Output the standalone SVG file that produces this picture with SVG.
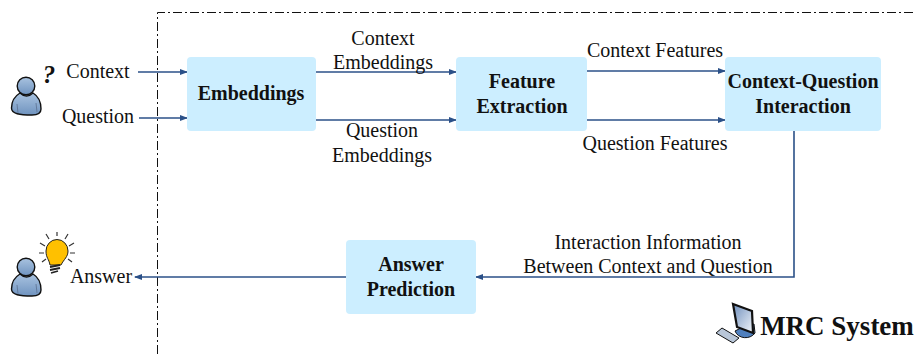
<svg xmlns="http://www.w3.org/2000/svg" width="915" height="356" viewBox="0 0 915 356">
<style>
text{font-family:"Liberation Serif","Times New Roman",serif;font-size:20px;fill:#111;text-anchor:middle}
.b{font-weight:bold}
.box{fill:#cceeff}
.c{fill:none;stroke:#2b5088;stroke-width:1.6;marker-end:url(#a)}
.border{fill:none;stroke:#111;stroke-width:1;stroke-dasharray:9 3 2 3}
.body{fill:url(#u);stroke:#111;stroke-width:1.4}
.fold{fill:none;stroke:#5a7090;stroke-width:.8}
</style>
<defs>
<marker id="a" markerWidth="8" markerHeight="6" refX="7" refY="3" orient="auto" markerUnits="userSpaceOnUse"><path d="M0 0L8 3L0 6z" fill="#2b5088"/></marker>
<linearGradient id="u" x1="0" y1="0" x2="0" y2="1"><stop offset="0" stop-color="#a9c3e0"/><stop offset="1" stop-color="#6f93bf"/></linearGradient>
<linearGradient id="s" x1="0" y1="0" x2="1" y2="1"><stop offset="0" stop-color="#6f8fbc"/><stop offset="1" stop-color="#f2f6fb"/></linearGradient>
<g id="person"><path class="body" d="M3.500 32C3.500 25 7 20 12 17C16 21 21 21 25 17C30 20 33 26 33 33C33 37 30 39 24 39C12 39 3.500 38 3.500 32Z"/><circle class="body" cx="18" cy="10" r="8.800"/><path class="fold" d="M9 28l1 9M28 27l1 9"/></g>
</defs>
<path class="border" d="M157.500 354V12.500H915"/>
<g id="connectors">
<path class="c" d="M138 72H187"/>
<path class="c" d="M139 118H187"/>
<path class="c" d="M316 72H456"/>
<path class="c" d="M316 120H456"/>
<path class="c" d="M587 71H725"/>
<path class="c" d="M587 120H725"/>
<path class="c" d="M794 131V277H476"/>
<path class="c" d="M346 277H135"/>
</g>
<g id="embeddings"><rect class="box" x="187" y="57" width="129" height="74" rx="4"/><text class="b" x="251" y="100">Embeddings</text></g>
<g id="feature-extraction"><rect class="box" x="456" y="57" width="131" height="74" rx="4"/><text class="b" x="522" y="88">Feature</text><text class="b" x="522" y="113">Extraction</text></g>
<g id="interaction"><rect class="box" x="725" y="57" width="156" height="74" rx="4"/><text class="b" x="803" y="88">Context-Question</text><text class="b" x="803" y="113">Interaction</text></g>
<g id="answer-prediction"><rect class="box" x="346" y="240" width="130" height="74" rx="4"/><text class="b" x="411" y="271">Answer</text><text class="b" x="411" y="296">Prediction</text></g>
<g id="labels">
<text x="98" y="78">Context</text>
<text x="98" y="123">Question</text>
<text x="101" y="283">Answer</text>
<text x="383" y="45">Context</text>
<text x="383" y="69">Embeddings</text>
<text x="382" y="137">Question</text>
<text x="382" y="162">Embeddings</text>
<text x="655" y="57">Context Features</text>
<text x="655" y="150">Question Features</text>
<text x="648" y="249">Interaction Information</text>
<text x="648" y="273">Between Context and Question</text>
</g>
<g id="user-question"><use href="#person" transform="translate(8 76)"/><text class="b" x="49" y="83" style="font-size:25px;font-style:italic">?</text></g>
<g id="user-answer"><use href="#person" transform="translate(8 257)"/>
<path d="M57 232V236M46 234L49 239M68 234L65 239M40 243L45 246M74 243L69 246M39 253H44M75 253H70M42 262L46 259M72 262L68 259" stroke="#333" stroke-width="1.200" fill="none"/>
<path d="M50 265C49 259 46 258 46 251A11 11.500 0 1 1 68 251C68 257 64 259 61 265Z" fill="#ffc000" stroke="#222" stroke-width="1"/>
<path d="M50 267L60 265M50 270L60 268M51 273L58 271" stroke="#222" stroke-width="1.800" fill="none"/></g>
<g id="mrc-system">
<path d="M735 331C738 339 750 340 755 333L754 324L745 326Z" fill="#4f7fbd" stroke="#111"/>
<path d="M733 304L752 311L753 333L737 327Z" fill="url(#s)" stroke="#111" stroke-width="2.200"/>
<path d="M716 333L722 328L739 338L733 343Z" fill="#b8c6d8" stroke="#111"/>
<text class="b" x="837" y="335" style="font-size:27px">MRC System</text>
</g>
</svg>
